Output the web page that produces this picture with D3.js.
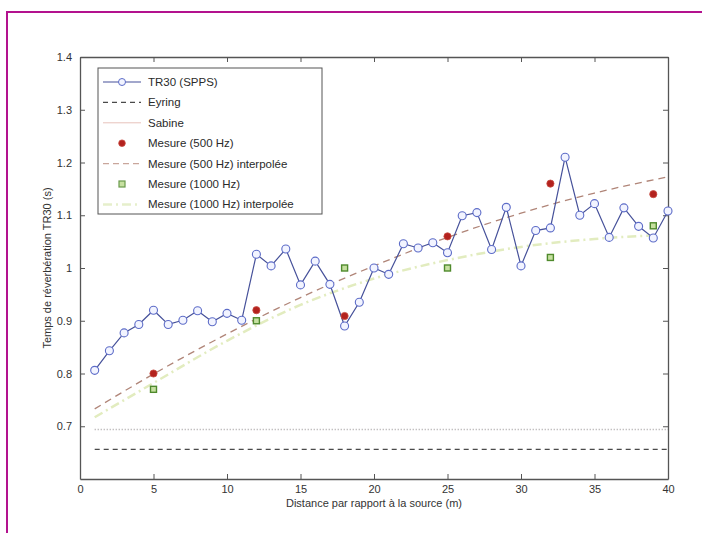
<!DOCTYPE html>
<html>
<head>
<meta charset="utf-8">
<script src="https://cdn.jsdelivr.net/npm/d3@7"></script>
<style>
html,body{margin:0;padding:0;background:#fff;}
svg{display:block;font-family:"Liberation Sans",Arial,sans-serif;}
</style>
</head>
<body>
<svg id="chart" width="702" height="533"></svg>
<script>
// ---- data ----
const distances = d3.range(1, 41);
const tr30 = [0.806,0.843,0.877,0.893,0.920,0.893,0.901,0.919,0.898,0.914,
              0.901,1.026,1.004,1.036,0.968,1.013,0.969,0.890,0.935,1.000,
              0.988,1.046,1.038,1.048,1.029,1.099,1.105,1.035,1.115,1.004,
              1.071,1.076,1.210,1.100,1.122,1.058,1.114,1.079,1.057,1.108];
const measureX = [5, 12, 18, 25, 32, 39];
const measure500 = [0.800, 0.920, 0.909, 1.060, 1.160, 1.140];
const measure1000 = [0.770, 0.900, 1.000, 1.000, 1.020, 1.080];
const interp500X = [1, 5, 10, 15, 20, 25, 30, 35, 40];
const interp500 = [0.733, 0.799, 0.875, 0.944, 1.004, 1.058, 1.104, 1.142, 1.173];
const interp1000X = [1, 5, 10, 15, 20, 25, 30, 35, 39];
const interp1000 = [0.717, 0.782, 0.862, 0.930, 0.980, 1.015, 1.040, 1.055, 1.062];
const eyring = 0.656;
const sabine = 0.694;
const xTicks = [0, 5, 10, 15, 20, 25, 30, 35, 40];
const yTicks = [0.7, 0.8, 0.9, 1.0, 1.1, 1.2, 1.3, 1.4];
const legendLabels = ["TR30 (SPPS)", "Eyring", "Sabine", "Mesure (500 Hz)",
  "Mesure (500 Hz) interpolée", "Mesure (1000 Hz)", "Mesure (1000 Hz) interpolée"];

// ---- layout ----
const svg = d3.select("#chart");
const L = 80, R = 668, T = 57, B = 479;
const x = d3.scaleLinear().domain([0, 40]).range([L, R]);
const y = d3.scaleLinear().domain([0.6, 1.4]).range([B, T]);

// outer magenta frame (only top/left visible)
svg.append("rect").attr("x", 7).attr("y", 12).attr("width", 720).attr("height", 560)
  .attr("fill", "none").attr("stroke", "#b3128e").attr("stroke-width", 2);

// axes (MATLAB style inner ticks, all sides)
const axisColor = "#555";
const gB = svg.append("g").attr("transform", `translate(0,${B})`)
  .call(d3.axisBottom(x).tickValues(xTicks).tickSizeInner(-5).tickSizeOuter(0).tickPadding(6).tickFormat(d3.format("d")));
const gT = svg.append("g").attr("transform", `translate(0,${T})`)
  .call(d3.axisTop(x).tickValues(xTicks).tickSizeInner(-5).tickSizeOuter(0).tickFormat(""));
const gL = svg.append("g").attr("transform", `translate(${L},0)`)
  .call(d3.axisLeft(y).tickValues(yTicks).tickSizeInner(-5).tickSizeOuter(0).tickPadding(8).tickFormat(d => d === 1 ? "1" : d3.format(".1f")(d)));
const gR = svg.append("g").attr("transform", `translate(${R},0)`)
  .call(d3.axisRight(y).tickValues(yTicks).tickSizeInner(-5).tickSizeOuter(0).tickFormat(""));
[gB, gT, gL, gR].forEach(g => {
  g.selectAll("path").attr("stroke", axisColor).attr("stroke-width", 1.3);
  g.selectAll("line").attr("stroke", axisColor);
  g.selectAll("text").attr("fill", "#333").style("font-size", "11px").style("font-family", "'Liberation Sans',Arial,sans-serif");
});

// axis titles
svg.append("text").attr("x", (L + R) / 2).attr("y", 507).attr("text-anchor", "middle")
  .style("font-size", "11px").attr("fill", "#333").text("Distance par rapport à la source (m)");
svg.append("text").attr("transform", `translate(51,${(T + B) / 2}) rotate(-90)`).attr("text-anchor", "middle")
  .style("font-size", "11px").attr("fill", "#333").text("Temps de réverbération TR30 (s)");

// ---- series ----
const plot = svg.append("g");
// Eyring
plot.append("line").attr("x1", x(1)).attr("x2", x(40)).attr("y1", y(eyring)).attr("y2", y(eyring))
  .attr("stroke", "#4a4a4a").attr("stroke-width", 1.2).attr("stroke-dasharray", "5,4");
// Sabine
plot.append("line").attr("x1", x(1)).attr("x2", x(40)).attr("y1", y(sabine)).attr("y2", y(sabine))
  .attr("stroke", "#aaa5a7").attr("stroke-width", 1.5).attr("stroke-dasharray", "1,2");

// interpolated curves
const curveLine = d3.line().x(d => x(d[0])).y(d => y(d[1])).curve(d3.curveMonotoneX);
plot.append("path").datum(interp1000X.map((d, i) => [d, interp1000[i]]))
  .attr("d", curveLine).attr("fill", "none").attr("stroke", "#e2ecbf").attr("stroke-width", 2.5)
  .attr("stroke-dasharray", "9,4,2,4");
plot.append("path").datum(interp500X.map((d, i) => [d, interp500[i]]))
  .attr("d", curveLine).attr("fill", "none").attr("stroke", "#b08578").attr("stroke-width", 1.3)
  .attr("stroke-dasharray", "7,5");

// TR30 line + markers
const trLine = d3.line().x((d, i) => x(distances[i])).y(d => y(d));
plot.append("path").datum(tr30).attr("d", trLine).attr("fill", "none")
  .attr("stroke", "#46519a").attr("stroke-width", 1.2);
plot.selectAll("circle.tr").data(tr30).join("circle").attr("class", "tr")
  .attr("cx", (d, i) => x(distances[i])).attr("cy", d => y(d)).attr("r", 4)
  .attr("fill", "#f2f4ff").attr("stroke", "#5d6cc8").attr("stroke-width", 1.1);

// measurements
plot.selectAll("circle.m500").data(measure500).join("circle").attr("class", "m500")
  .attr("cx", (d, i) => x(measureX[i])).attr("cy", d => y(d)).attr("r", 3.6)
  .attr("fill", "#b3221e").attr("stroke", "#c84a40").attr("stroke-width", 0.8);
plot.selectAll("rect.m1000").data(measure1000).join("rect").attr("class", "m1000")
  .attr("x", (d, i) => x(measureX[i]) - 3).attr("y", d => y(d) - 3).attr("width", 6).attr("height", 6)
  .attr("fill", "#c6e0a0").attr("stroke", "#4f8a2c").attr("stroke-width", 1.4);

// ---- legend ----
const lg = svg.append("g");
lg.append("rect").attr("x", 98).attr("y", 68).attr("width", 224).attr("height", 146)
  .attr("fill", "#fff").attr("stroke", "#555").attr("stroke-width", 1);
const rowY = i => 82 + i * 20.4;
const sx1 = 103, sx2 = 141, sxm = 122, tx = 148;
legendLabels.forEach((lab, i) => {
  lg.append("text").attr("x", tx).attr("y", rowY(i) + 4).style("font-size", "11.5px").attr("fill", "#2a2a2a").text(lab);
});
// samples
lg.append("line").attr("x1", sx1).attr("x2", sx2).attr("y1", rowY(0)).attr("y2", rowY(0)).attr("stroke", "#46519a").attr("stroke-width", 1.2);
lg.append("circle").attr("cx", sxm).attr("cy", rowY(0)).attr("r", 3.5).attr("fill", "#f2f4ff").attr("stroke", "#5d6cc8");
lg.append("line").attr("x1", sx1).attr("x2", sx2).attr("y1", rowY(1)).attr("y2", rowY(1)).attr("stroke", "#4a4a4a").attr("stroke-width", 1.2).attr("stroke-dasharray", "5,4");
lg.append("line").attr("x1", sx1).attr("x2", sx2).attr("y1", rowY(2)).attr("y2", rowY(2)).attr("stroke", "#e7c2bb").attr("stroke-width", 1);
lg.append("circle").attr("cx", sxm).attr("cy", rowY(3)).attr("r", 3.3).attr("fill", "#b3221e").attr("stroke", "#c84a40").attr("stroke-width", 0.8);
lg.append("line").attr("x1", sx1).attr("x2", sx2).attr("y1", rowY(4)).attr("y2", rowY(4)).attr("stroke", "#c9a69c").attr("stroke-width", 1.2).attr("stroke-dasharray", "6,4");
lg.append("rect").attr("x", sxm - 3).attr("y", rowY(5) - 3).attr("width", 6).attr("height", 6).attr("fill", "#c6e0a0").attr("stroke", "#6a9a4c").attr("stroke-width", 1.2);
lg.append("line").attr("x1", sx1).attr("x2", sx2).attr("y1", rowY(6)).attr("y2", rowY(6)).attr("stroke", "#e6efcc").attr("stroke-width", 2.5).attr("stroke-dasharray", "9,4,2,4");
</script>
</body>
</html>
